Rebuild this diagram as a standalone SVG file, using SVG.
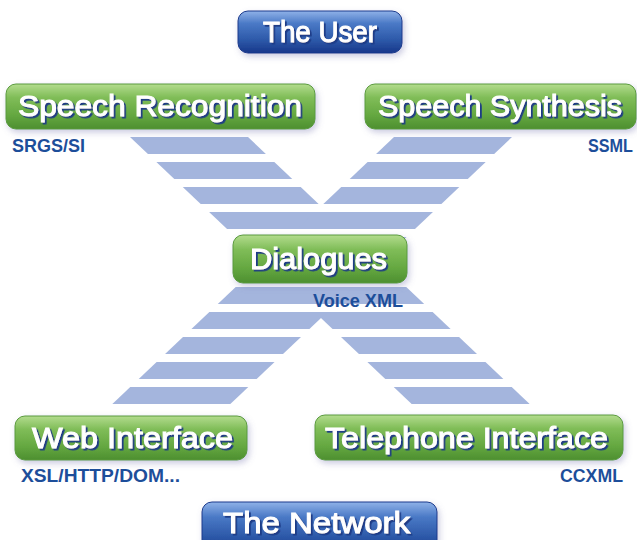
<svg xmlns="http://www.w3.org/2000/svg" width="637" height="540" viewBox="0 0 637 540">
<defs>
<linearGradient id="gGreen" x1="0" y1="0" x2="0" y2="1">
<stop offset="0" stop-color="#b3dc8e"/>
<stop offset="0.3" stop-color="#80bd58"/>
<stop offset="0.7" stop-color="#64a740"/>
<stop offset="1" stop-color="#4d8f30"/>
</linearGradient>
<linearGradient id="gBlue" x1="0" y1="0" x2="0" y2="1">
<stop offset="0" stop-color="#8fb2e8"/>
<stop offset="0.3" stop-color="#4a79c6"/>
<stop offset="0.7" stop-color="#2c58a8"/>
<stop offset="1" stop-color="#18378a"/>
</linearGradient>
<filter id="boxShadow" x="-10%" y="-30%" width="120%" height="160%">
<feDropShadow dx="2" dy="3" stdDeviation="3" flood-color="#6a6aa8" flood-opacity="0.35"/>
</filter>
<filter id="txtShadow" x="-5%" y="-20%" width="110%" height="140%">
<feDropShadow dx="1.8" dy="1.8" stdDeviation="0.4" flood-color="#1b3a86" flood-opacity="1"/>
</filter>
<clipPath id="stripes">
<rect x="0" y="137" width="637" height="17"/>
<rect x="0" y="162" width="637" height="17"/>
<rect x="0" y="187" width="637" height="17"/>
<rect x="0" y="212" width="637" height="17"/>
<rect x="0" y="237" width="637" height="17"/>
<rect x="0" y="262" width="637" height="17"/>
<rect x="0" y="287" width="637" height="17"/>
<rect x="0" y="312" width="637" height="17"/>
<rect x="0" y="337" width="637" height="17"/>
<rect x="0" y="362" width="637" height="17"/>
<rect x="0" y="387" width="637" height="17"/>
</clipPath>
<style>
.gbox{fill:url(#gGreen);stroke:#5a9a3c;stroke-width:1;filter:url(#boxShadow)}
.bbox{fill:url(#gBlue);stroke:#1a3b8c;stroke-width:1;filter:url(#boxShadow)}
.lbl{font-family:"Liberation Sans",Arial,sans-serif;font-size:30px;fill:#ffffff;stroke:#ffffff;stroke-width:1;filter:url(#txtShadow)}
.sub{font-family:"Liberation Sans",Arial,sans-serif;font-size:18px;font-weight:bold;fill:#1d4e9a}
.band{fill:#a4b5dd}
</style>
</defs>
<rect x="0" y="0" width="637" height="540" fill="#ffffff"/>

<g id="connectors" clip-path="url(#stripes)">
<polygon class="band" points="122.6,130 240.6,130 536.0,410 418.0,410"/>
<polygon class="band" points="401.4,130 519.4,130 224.0,410 106.0,410"/>
</g>

<g id="the-user">
<rect class="bbox" x="238" y="11" width="164" height="42" rx="10"/>
<text class="lbl" x="263" y="42" textLength="114" lengthAdjust="spacingAndGlyphs">The User</text>
</g>

<g id="speech-recognition">
<rect class="gbox" x="6" y="84" width="309" height="45" rx="10"/>
<text class="lbl" x="18" y="116" textLength="284" lengthAdjust="spacingAndGlyphs">Speech Recognition</text>
<text class="sub" x="12" y="152" textLength="73" lengthAdjust="spacingAndGlyphs">SRGS/SI</text>
</g>

<g id="speech-synthesis">
<rect class="gbox" x="365" y="84" width="271" height="45" rx="10"/>
<text class="lbl" x="378" y="116" textLength="244" lengthAdjust="spacingAndGlyphs">Speech Synthesis</text>
<text class="sub" x="588" y="152" textLength="45" lengthAdjust="spacingAndGlyphs">SSML</text>
</g>

<g id="dialogues">
<rect class="gbox" x="233" y="235" width="174" height="48" rx="10"/>
<text class="lbl" x="250" y="269" textLength="137" lengthAdjust="spacingAndGlyphs">Dialogues</text>
<text class="sub" x="313" y="307" textLength="90" lengthAdjust="spacingAndGlyphs">Voice XML</text>
</g>

<g id="web-interface">
<rect class="gbox" x="15" y="416" width="232" height="44" rx="10"/>
<text class="lbl" x="32" y="448" textLength="201" lengthAdjust="spacingAndGlyphs">Web Interface</text>
<text class="sub" x="21" y="482" textLength="159" lengthAdjust="spacingAndGlyphs">XSL/HTTP/DOM...</text>
</g>

<g id="telephone-interface">
<rect class="gbox" x="315" y="415" width="308" height="45" rx="10"/>
<text class="lbl" x="325" y="448" textLength="283" lengthAdjust="spacingAndGlyphs">Telephone Interface</text>
<text class="sub" x="560" y="482" textLength="63" lengthAdjust="spacingAndGlyphs">CCXML</text>
</g>

<g id="the-network">
<rect class="bbox" x="202" y="502" width="235" height="50" rx="10"/>
<text class="lbl" x="223" y="533" textLength="187" lengthAdjust="spacingAndGlyphs">The Network</text>
</g>
</svg>
